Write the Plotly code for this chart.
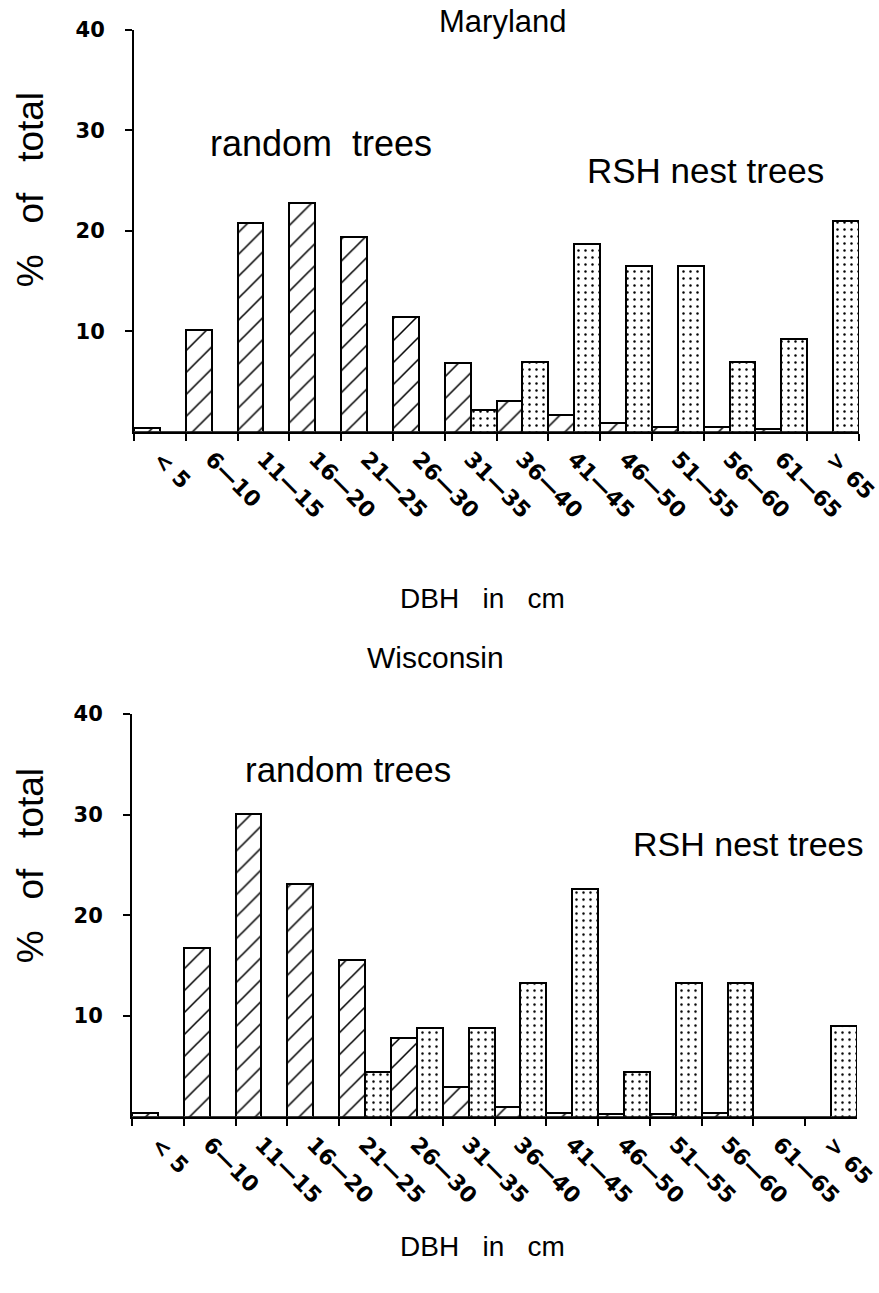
import plotly.graph_objects as go

# ---------------- data ----------------
categories = ["< 5", "6—10", "11—15", "16—20", "21—25", "26—30", "31—35",
              "36—40", "41—45", "46—50", "51—55", "56—60", "61—65", "> 65"]

maryland_random = [0.4, 10.1, 20.8, 22.8, 19.4, 11.4, 6.8, 3.1, 1.7, 0.9, 0.45, 0.5, 0.3, 0]
maryland_nest = [0, 0, 0, 0, 0, 0, 2.2, 6.9, 18.7, 16.5, 16.5, 6.9, 9.2, 21.0]

wisconsin_random = [0.35, 16.8, 30.1, 23.1, 15.6, 7.8, 2.9, 1.0, 0.4, 0.3, 0.3, 0.4, 0, 0]
wisconsin_nest = [0, 0, 0, 0, 4.4, 8.8, 8.8, 13.3, 22.6, 4.4, 13.3, 13.3, 0, 9.0]

y_ticks = [10, 20, 30, 40]

# ---------------- figure ----------------
W, H = 879, 1293
# the photographed figure area (measured): x 0..859, y 12..1291
PW, PH, PY0 = 859.0, 1279.0, 12.0


def px(x):
    return min(1.0, max(0.0, x / PW))


def py(y):
    return min(1.0, max(0.0, 1 - (y - PY0) / PH))


hatch = dict(shape="/", size=15.5, solidity=0.1, fgcolor="black", bgcolor="white", fillmode="replace")
stipple = dict(shape=".", size=7, solidity=0.1, fgcolor="black", bgcolor="white", fillmode="replace")
outline = dict(color="black", width=2)

fig = go.Figure()
for (rnd, nst, xa, ya) in [(maryland_random, maryland_nest, "x", "y"),
                           (wisconsin_random, wisconsin_nest, "x2", "y2")]:
    fig.add_trace(go.Bar(x=categories, y=rnd, xaxis=xa, yaxis=ya, name="random trees",
                         marker=dict(color="white", line=outline, pattern=hatch)))
    fig.add_trace(go.Bar(x=categories, y=nst, xaxis=xa, yaxis=ya, name="RSH nest trees",
                         marker=dict(color="white", line=outline, pattern=stipple)))

tickfont = dict(family="DejaVu Sans", size=21, color="black", weight="bold")
xtickfont = dict(family="DejaVu Sans", size=22, color="black", weight="bold")

xcommon = dict(type="category", tickson="boundaries", ticks="outside", ticklen=7, tickwidth=2,
               tickcolor="black", showline=True, linecolor="black", linewidth=2,
               showgrid=False, zeroline=False, tickangle=45, tickfont=xtickfont,
               ticklabelstandoff=4, fixedrange=True)
ycommon = dict(range=[0, 40], tickvals=y_ticks, ticks="outside", ticklen=7, tickwidth=2,
               tickcolor="black", showline=True, linecolor="black", linewidth=2,
               showgrid=False, zeroline=False, tickfont=tickfont, ticklabelstandoff=16,
               fixedrange=True)

fig.update_layout(
    width=W, height=H, autosize=False,
    margin=dict(l=0, r=0, t=0, b=0),
    paper_bgcolor="white", plot_bgcolor="white",
    showlegend=False, barmode="group", bargap=0, bargroupgap=0,
    xaxis=dict(domain=[px(134), px(861)], anchor="y", **xcommon),
    yaxis=dict(domain=[py(431), py(30)], anchor="x", **ycommon),
    xaxis2=dict(domain=[px(132), px(857)], anchor="y2", **xcommon),
    yaxis2=dict(domain=[py(1115), py(713)], anchor="x2", **ycommon),
    font=dict(family="Liberation Sans", color="black"),
)

NB = "\u00a0"
texts = [
    ("Maryland", 503, 21, 31, 0),
    ("random" + NB * 2 + "trees", 321, 143, 36, 0),
    ("RSH nest trees", 705, 170, 35, 0),
    ("DBH" + NB * 3 + "in" + NB * 3 + "cm", 482, 598, 28, 0),
    ("Wisconsin", 435, 656, 30, 0),
    ("random trees", 348, 768, 35, 0),
    ("RSH nest trees", 748, 843, 34, 0),
    ("DBH" + NB * 3 + "in" + NB * 3 + "cm", 482, 1245, 28, 0),
    ("%" + NB * 3 + "of" + NB * 3 + "total", 30, 190, 37, -90),
    ("%" + NB * 3 + "of" + NB * 3 + "total", 30, 865, 37, -90),
]
for t, x, y, s, ang in texts:
    fig.add_annotation(text=t, x=px(x), y=py(y), xref="paper", yref="paper",
                       xanchor="center", yanchor="middle", showarrow=False,
                       textangle=ang, font=dict(family="Liberation Sans", size=s, color="black"))

fit_page = (
    "document.documentElement.style.margin='0';"
    "document.documentElement.style.padding='0';"
    "document.documentElement.style.overflow='hidden';"
    "document.body.style.margin='0';"
    "document.body.style.padding='0';"
    "document.body.style.overflow='hidden';"
    "var gd=document.getElementById('{plot_id}');"
    "gd.style.position='absolute';gd.style.left='0px';gd.style.top='0px';"
)

fig.write_html("out.html", config={"displayModeBar": False}, post_script=fit_page)
